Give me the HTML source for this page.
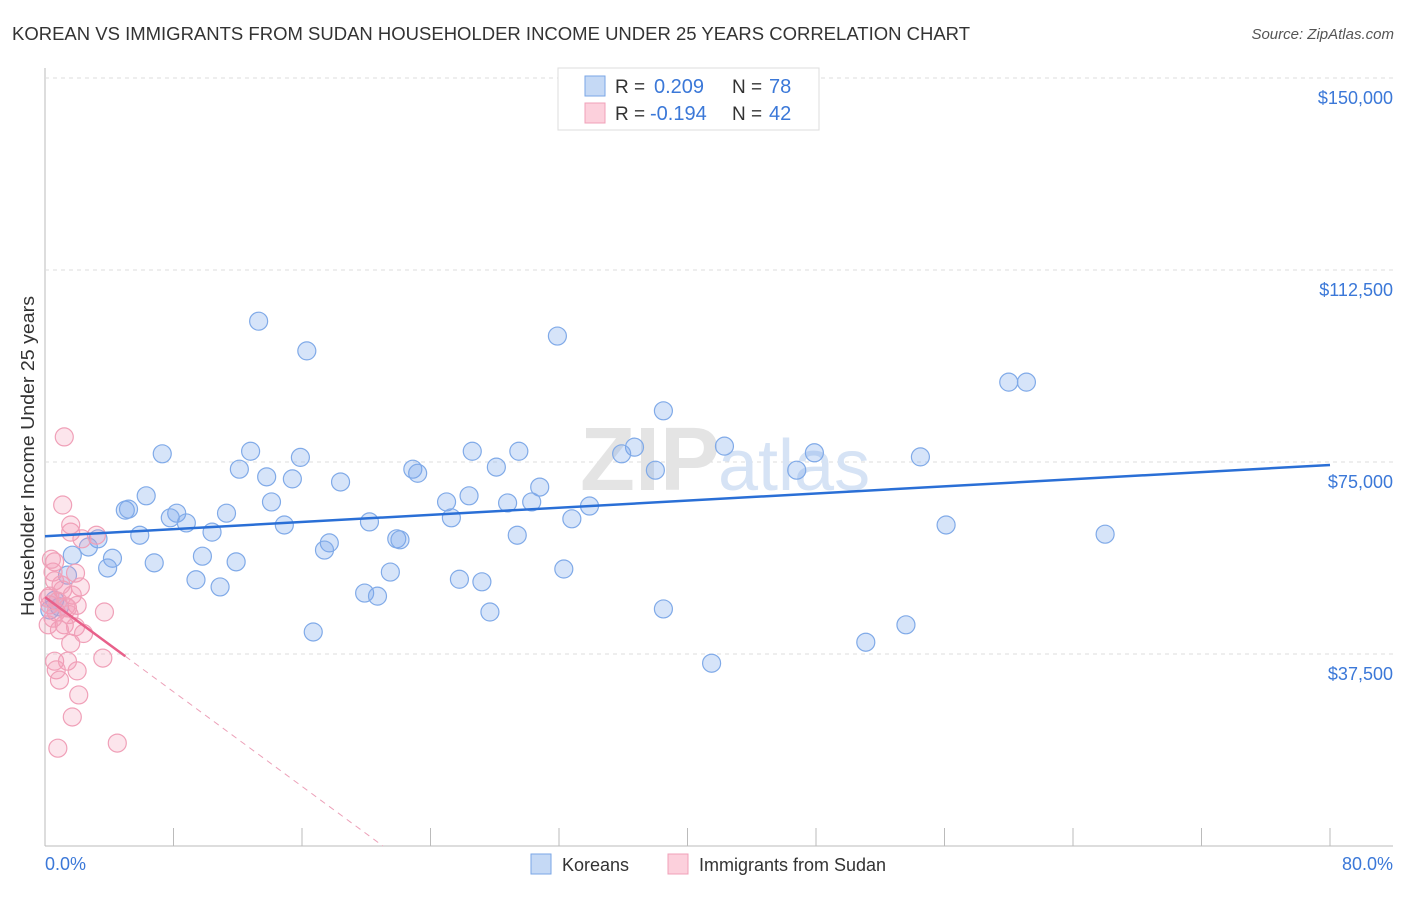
<!DOCTYPE html>
<html><head><meta charset="utf-8"><style>
body{margin:0;background:#fff;font-family:"Liberation Sans",sans-serif}
svg text{font-family:"Liberation Sans",sans-serif}
</style></head><body>
<svg id="c" width="1406" height="892">
<text x="12" y="40" font-size="18" fill="#333" textLength="958" lengthAdjust="spacingAndGlyphs">KOREAN VS IMMIGRANTS FROM SUDAN HOUSEHOLDER INCOME UNDER 25 YEARS CORRELATION CHART</text>
<text x="1394" y="39" font-size="15" fill="#555" font-style="italic" text-anchor="end">Source: ZipAtlas.com</text>
<g id="grid"></g>
<text x="720" y="490" font-size="90" fill="#e4e4e4" text-anchor="end" font-family="Liberation Serif" font-weight="bold">ZIP</text>
<text x="718" y="490" font-size="72" fill="#d6e3f5">atlas</text>
<g id="pts"></g>
<g id="lines"></g>
<text transform="translate(34,456) rotate(-90)" font-size="18" fill="#333" text-anchor="middle" textLength="320" lengthAdjust="spacingAndGlyphs">Householder Income Under 25 years</text>
<text x="45" y="870" font-size="18" fill="#3b78d8">0.0%</text>
<text x="1393" y="870" font-size="18" fill="#3b78d8" text-anchor="end">80.0%</text>
<g>
<rect x="558" y="68" width="261" height="62" fill="#fff" stroke="#ddd"/>
<rect x="585" y="76" width="20" height="20" fill="#c5d9f5" stroke="#7aa6e6"/>
<rect x="585" y="103" width="20" height="20" fill="#fcd0dc" stroke="#f0a0b8"/>
<text x="615" y="93" font-size="19" fill="#333">R = </text><text x="654" y="93" font-size="20" fill="#3b78d8">0.209</text>
<text x="732" y="93" font-size="19" fill="#333">N = </text><text x="769" y="93" font-size="20" fill="#3b78d8">78</text>
<text x="615" y="120" font-size="19" fill="#333">R = </text><text x="650" y="120" font-size="20" fill="#3b78d8">-0.194</text>
<text x="732" y="120" font-size="19" fill="#333">N = </text><text x="769" y="120" font-size="20" fill="#3b78d8">42</text>
</g>
<g>
<rect x="531" y="854" width="20" height="20" fill="#c5d9f5" stroke="#7aa6e6"/>
<text x="562" y="871" font-size="18" fill="#333">Koreans</text>
<rect x="668" y="854" width="20" height="20" fill="#fcd0dc" stroke="#f0a0b8"/>
<text x="699" y="871" font-size="18" fill="#333">Immigrants from Sudan</text>
</g>
</svg>
<script>
const yTicks=[37500,75000,112500,150000];
const yTickLabels=["$37,500","$75,000","$112,500","$150,000"];
const xTicks=[0,8,16,24,32,40,48,56,64,72,80];
const koreanX=[13.3,16.3,31.9,60.0,61.1,38.5,7.3,12.8,15.9,12.1,13.8,15.4,18.4,22.9,23.2,26.6,29.5,28.1,30.8,36.7,35.9,38.0,42.3,46.8,47.9,54.5,6.3,5.0,5.2,8.2,7.8,8.8,11.3,14.1,14.9,10.4,5.9,3.3,2.7,1.7,4.2,3.9,6.8,9.8,11.9,9.4,10.9,1.4,17.7,17.4,20.2,21.9,22.1,21.5,19.9,20.7,25.0,26.4,25.3,28.8,30.3,29.4,25.8,27.2,27.7,16.7,32.3,32.8,33.9,38.5,41.5,51.1,53.6,56.1,66.0,0.6,0.9,0.3];
const koreanY=[102500,96700,99600,90600,90600,85000,76600,77100,75900,73600,72100,71700,71100,73600,72800,77100,77100,74000,70100,77900,76600,73400,78100,73400,76800,76000,68400,65600,65800,65000,64100,63100,65000,67200,62700,61300,60700,60000,58400,56800,56200,54300,55300,56600,55500,52000,50600,52900,59200,57800,63300,60000,59800,53500,49400,48800,67200,68400,64100,67000,67200,60700,52100,51600,45700,41800,54100,63900,66400,46300,35700,39800,43200,62700,60900,48000,46700,46100];
const sudanX=[1.2,1.1,1.6,1.6,2.3,3.2,0.6,0.5,1.9,0.6,2.2,1.1,1.7,0.2,0.3,0.7,1.4,1.2,0.9,1.9,0.2,3.7,1.6,0.6,1.4,0.7,2.0,3.6,0.9,2.1,1.7,0.8,4.5,0.4,1.0,2.0,0.5,1.3,2.4,0.3,0.8,1.5];
const sudanY=[79900,66600,62700,61300,60000,60700,55500,53500,53300,51800,50600,50000,49000,48400,47100,45700,46500,43200,42200,42800,43200,45700,39600,36100,36100,34400,34200,36700,32400,29500,25200,19100,20100,56000,51000,47000,44500,46800,41500,48800,47800,45200];
const trendIntercept=[60500,48600];
const trendSlope=[174,-2310];
const X=v=>45+v/80*1285, Y=v=>846-v/150000*768;
const ns="http://www.w3.org/2000/svg";
function mk(t,a,p){const e=document.createElementNS(ns,t);for(const k in a)e.setAttribute(k,a[k]);p.appendChild(e);return e;}
const g=document.getElementById('grid');
let ax=mk('line',{x1:45,y1:68,x2:45,y2:846,stroke:'#bbb'},g);


let bx=mk('line',{x1:45,y1:846,x2:1393,y2:846,stroke:'#bbb'},g);


let tl=mk('line',{x1:45,y1:78,x2:1393,y2:78,stroke:'#ddd','stroke-dasharray':'4,4'},g);


yTicks.forEach((v,i)=>{
 const l=mk('line',{x1:45,y1:Y(v),x2:1393,y2:Y(v),stroke:'#ddd','stroke-dasharray':'4,4'},g);
 
 
 const t=mk('text',{x:1393,y:Y(v)+26,'font-size':18,fill:'#3b78d8','text-anchor':'end'},g);
 t.textContent=yTickLabels[i];
 
 
});
xTicks.forEach(v=>{
 const l=mk('line',{x1:X(v),y1:828,x2:X(v),y2:846,stroke:'#bbb'},g);
 
 
});
const p=document.getElementById('pts');
koreanX.forEach((v,i)=>{
 const c=mk('circle',{cx:X(v),cy:Y(koreanY[i]),r:9,fill:'rgba(120,165,235,0.3)',stroke:'#80aae8','stroke-width':1.2},p);
 
 
});
sudanX.forEach((v,i)=>{
 const c=mk('circle',{cx:X(v),cy:Y(sudanY[i]),r:9,fill:'rgba(245,150,178,0.25)',stroke:'#f0a0b8','stroke-width':1.2},p);
 
 
});
const L=document.getElementById('lines');
let b=mk('line',{x1:X(0),y1:Y(trendIntercept[0]),x2:X(80),y2:Y(trendIntercept[0]+80*trendSlope[0]),stroke:'#2a6fd6','stroke-width':2.5},L);


let xs=5, xe=-trendIntercept[1]/trendSlope[1];
let s=mk('line',{x1:X(0),y1:Y(trendIntercept[1]),x2:X(xs),y2:Y(trendIntercept[1]+xs*trendSlope[1]),stroke:'#e8608a','stroke-width':2.5},L);


let d=mk('line',{x1:X(xs),y1:Y(trendIntercept[1]+xs*trendSlope[1]),x2:X(xe),y2:Y(0),stroke:'#eca0b8','stroke-width':1,'stroke-dasharray':'6,5'},L);


</script>
</body></html>
